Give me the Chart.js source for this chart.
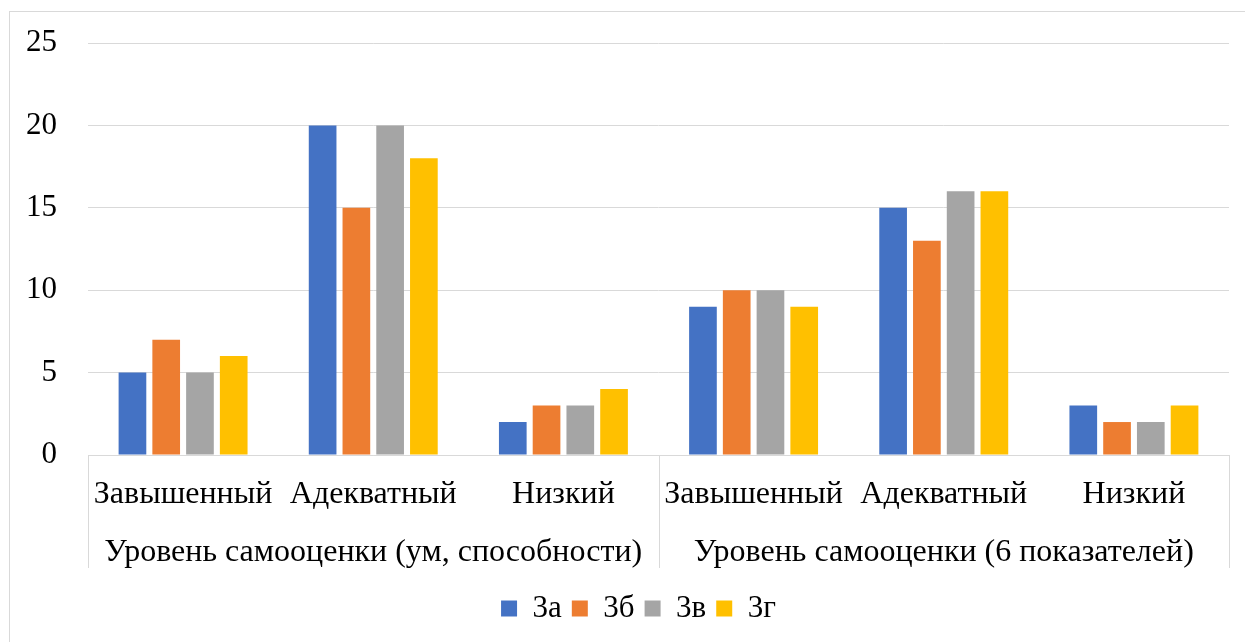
<!DOCTYPE html>
<html>
<head>
<meta charset="utf-8">
<script src="https://cdn.jsdelivr.net/npm/chart.js@4"></script>
<style>
  html, body { margin: 0; padding: 0; background: #fff; overflow: hidden; }
  #wrap { position: absolute; left: 0; top: 0; width: 1245px; height: 642px; }
  #frame { position: absolute; left: 9px; top: 11px; width: 1260px; height: 660px;
           border: 1px solid #d9d9d9; box-sizing: border-box; pointer-events: none; }
</style>
</head>
<body>
<div id="wrap"><canvas id="chart" width="1245" height="642"></canvas></div>
<div id="frame"></div>
<script>
"use strict";

// ── Data ──────────────────────────────────────────────────────────
const CATEGORIES = ["Завышенный", "Адекватный", "Низкий", "Завышенный", "Адекватный", "Низкий"];
const GROUPS     = ["Уровень самооценки (ум, способности)", "Уровень самооценки (6 показателей)"];
const GROUP_SIZE = 3;
const SERIES     = ["3а", "3б", "3в", "3г"];
const S_3A = [5, 20, 2, 9, 15, 3];
const S_3B = [7, 15, 3, 10, 13, 2];
const S_3V = [5, 20, 3, 10, 16, 2];
const S_3G = [6, 18, 4, 9, 16, 3];
const Y_TICKS = [0, 5, 10, 15, 20, 25];

const COLORS = ["#4472C4", "#ED7D31", "#A5A5A5", "#FFC000"];
const FONT   = "'Liberation Serif', 'Times New Roman', serif";
const GRID   = "#d9d9d9";

// ── Multi-level axis: group labels + separators ──────────────────
const groupAxis = {
  id: "groupAxis",
  afterLayout(chart) {
    // legend centred on the outer frame, not the canvas
    chart.legend.left += 24;
    chart.legend.right += 24;
  },
  afterDraw(chart) {
    const { ctx, chartArea, scales: { x } } = chart;
    const half = (x.getPixelForValue(1) - x.getPixelForValue(0)) / 2;
    const bottom = chartArea.bottom + 113;
    ctx.save();
    ctx.strokeStyle = GRID;
    ctx.lineWidth = 1;
    ctx.fillStyle = "#000";
    ctx.font = "32px " + FONT;
    ctx.textAlign = "center";
    ctx.textBaseline = "middle";
    GROUPS.forEach((g, gi) => {
      const x0 = x.getPixelForValue(gi * GROUP_SIZE) - half;
      const x1 = x.getPixelForValue(gi * GROUP_SIZE + GROUP_SIZE - 1) + half;
      [x0, x1].forEach(px => {
        const sx = Math.round(px) + 0.5;
        ctx.beginPath();
        ctx.moveTo(sx, chartArea.bottom);
        ctx.lineTo(sx, bottom);
        ctx.stroke();
      });
      ctx.fillText(g, (x0 + x1) / 2, chartArea.bottom + 98);
    });
    ctx.restore();
  }
};

const data = {
  labels: CATEGORIES,
  datasets: [S_3A, S_3B, S_3V, S_3G].map((vals, i) => ({
    label: SERIES[i],
    data: vals,
    backgroundColor: COLORS[i],
    borderWidth: 0,
    categoryPercentage: 0.71,
    barPercentage: 0.82
  }))
};

new Chart(document.getElementById("chart"), {
  type: "bar",
  data,
  plugins: [groupAxis],
  options: {
    responsive: false,
    animation: false,
    layout: { padding: { left: 0, right: 16, top: 43, bottom: 8 } },
    plugins: {
      tooltip: { enabled: false },
      legend: {
        position: "bottom",
        labels: {
          color: "#000",
          font: { family: FONT, size: 31 },
          boxWidth: 16, boxHeight: 16,
          padding: 10
        }
      }
    },
    scales: {
      x: {
        grid: { display: false },
        border: { display: true, color: GRID },
        ticks: { color: "#000", font: { family: FONT, size: 32 }, padding: 12, maxRotation: 0, autoSkip: false },
        afterFit: s => { s.height = 128; }
      },
      y: {
        min: 0, max: 25,
        afterBuildTicks: s => { s.ticks = Y_TICKS.map(v => ({ value: v })); },
        grid: { color: GRID, drawTicks: false },
        border: { display: false },
        ticks: { color: "#000", font: { family: FONT, size: 31 }, padding: 31 },
        afterFit: s => { s.width = 88; s.paddingTop = 0; s.paddingBottom = 0; }
      }
    }
  }
});
</script>
</body>
</html>
